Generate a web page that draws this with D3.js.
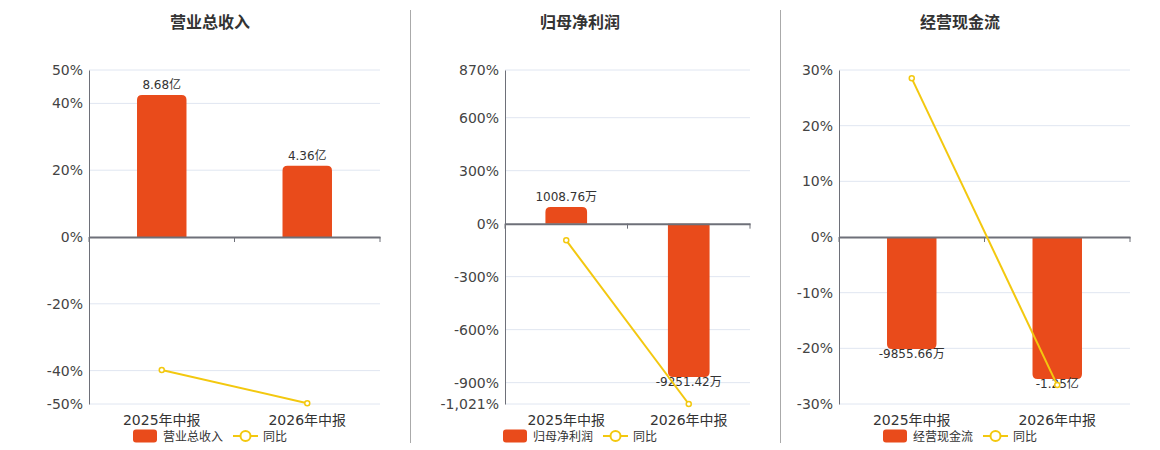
<!DOCTYPE html>
<html>
<head>
<meta charset="utf-8">
<script src="https://cdn.jsdelivr.net/npm/d3@7"></script>
<style>
	body { margin: 0; background: #fff; }
	svg { display: block; font-family: "DejaVu Sans", "Noto Sans CJK SC", sans-serif; }
</style>
</head>
<body>
<svg id="chart" width="1160" height="450"></svg>
<script>
// ---- data ----
const categories = ["2025年中报", "2026年中报"];
const titles = ["营业总收入", "归母净利润", "经营现金流"];
const seriesNames = ["营业总收入", "归母净利润", "经营现金流"];

// bar amounts in 万元
const revenueAmount = [86800, 43600];
const profitAmount = [1008.76, -9251.42];
const cashAmount = [-9855.66, -12500];

const revenueLabels = ["8.68亿", "4.36亿"];
const profitLabels = ["1008.76万", "-9251.42万"];
const cashLabels = ["-9855.66万", "-1.25亿"];

// 同比 (%)
const revenueYoy = [-39.8, -49.77];
const profitYoy = [-94.6, -1021];
const cashYoy = [28.5, -26.6];

const revenueTicks = [-50, -40, -20, 0, 20, 40, 50];
const profitTicks = [-1021, -900, -600, -300, 0, 300, 600, 870];
const cashTicks = [-30, -20, -10, 0, 10, 20, 30];

const barColor = "#e94b1b";
const lineColor = "#f3c80f";

const panels = [
	{ title: titles[0], name: seriesNames[0], amount: revenueAmount, labels: revenueLabels, yoy: revenueYoy, ticks: revenueTicks, cx: 210, left: 89 },
	{ title: titles[1], name: seriesNames[1], amount: profitAmount, labels: profitLabels, yoy: profitYoy, ticks: profitTicks, cx: 580, left: 505 },
	{ title: titles[2], name: seriesNames[2], amount: cashAmount, labels: cashLabels, yoy: cashYoy, ticks: cashTicks, cx: 960, left: 839 },
];

const svg = d3.select("#chart");
const plotTop = 70, plotBottom = 404;
// plain hyphen for negatives, like the original
const fmt = d3.formatLocale({ decimal: ".", thousands: ",", grouping: [3], currency: ["", ""], minus: "-" }).format(",");

// separators between panels
[410.5, 780.5].forEach((x) => {
	svg.append("line")
		.attr("x1", x).attr("x2", x)
		.attr("y1", 10).attr("y2", 443)
		.attr("stroke", "#aaa");
});

// bar path with rounded far end
function barPath(x, w, y0, y1, r) {
	const h = Math.abs(y1 - y0);
	r = Math.min(r, h, w / 2);
	if (y1 < y0) {
		return `M${x},${y0}V${y1 + r}Q${x},${y1} ${x + r},${y1}H${x + w - r}Q${x + w},${y1} ${x + w},${y1 + r}V${y0}Z`;
	}
	return `M${x},${y0}V${y1 - r}Q${x},${y1} ${x + r},${y1}H${x + w - r}Q${x + w},${y1} ${x + w},${y1 - r}V${y0}Z`;
}

panels.forEach((p) => {
	const g = svg.append("g");
	const right = p.cx + 170;
	const lo = d3.min(p.ticks), hi = d3.max(p.ticks);

	const x = d3.scaleBand().domain(categories).range([p.left, right]);
	const y = d3.scaleLinear().domain([lo, hi]).range([plotBottom, plotTop]);

	// bars share the zero line; the biggest bar reaches 85% of its side
	const maxAbs = d3.max(p.amount, (d) => Math.abs(d));
	const side = d3.max(p.amount) === maxAbs ? hi : -lo;
	const k = maxAbs / (0.85 * side);
	const yBar = d3.scaleLinear().domain([lo * k, hi * k]).range([plotBottom, plotTop]);

	// title
	g.append("text")
		.attr("x", p.cx).attr("y", 28)
		.attr("text-anchor", "middle")
		.attr("font-size", 16).attr("font-weight", "bold")
		.attr("fill", "#333")
		.text(p.title);

	// grid
	g.selectAll(".grid").data(p.ticks.filter((t) => t !== 0)).join("line")
		.attr("x1", p.left).attr("x2", right)
		.attr("y1", (d) => y(d)).attr("y2", (d) => y(d))
		.attr("stroke", "#e0e6f1");

	// y axis
	const yAxis = g.append("g")
		.attr("transform", `translate(${p.left},0)`)
		.call(d3.axisLeft(y).tickValues(p.ticks).tickSize(0).tickPadding(6).tickFormat((d) => fmt(d) + "%"));
	yAxis.select(".domain").attr("stroke", "#6e7079");
	yAxis.selectAll("text").attr("font-size", 14).attr("fill", "#444");
	yAxis.attr("font-family", null);

	// bars
	const bw = x.bandwidth() * 0.34;
	g.selectAll(".bar").data(p.amount).join("path")
		.attr("fill", barColor)
		.attr("d", (d, i) => barPath(x(categories[i]) + (x.bandwidth() - bw) / 2, bw, yBar(0), yBar(d), 5));

	// x axis on zero line
	const xAxis = g.append("g")
		.attr("transform", `translate(0,${y(0)})`)
		.call(d3.axisBottom(x).tickSize(0).tickFormat(""));
	xAxis.select(".domain").attr("stroke", "#6e7079").attr("stroke-width", 2);
	const edges = [p.left, p.left + x.bandwidth(), right];
	g.selectAll(".xtick").data(edges).join("line")
		.attr("x1", (d) => d).attr("x2", (d) => d)
		.attr("y1", y(0)).attr("y2", y(0) + 5)
		.attr("stroke", "#6e7079");

	// category labels
	g.selectAll(".cat").data(categories).join("text")
		.attr("x", (d) => x(d) + x.bandwidth() / 2)
		.attr("y", plotBottom + 21)
		.attr("text-anchor", "middle")
		.attr("font-size", 14).attr("fill", "#333")
		.text((d) => d);

	// value labels
	g.selectAll(".val").data(p.amount).join("text")
		.attr("x", (d, i) => x(categories[i]) + x.bandwidth() / 2)
		.attr("y", (d) => (d >= 0 ? yBar(d) - 6 : yBar(d) + 9))
		.attr("text-anchor", "middle")
		.attr("font-size", 12).attr("fill", "#333")
		.text((d, i) => p.labels[i]);

	// 同比 line
	const line = d3.line()
		.x((d, i) => x(categories[i]) + x.bandwidth() / 2)
		.y((d) => y(d));
	g.append("path")
		.datum(p.yoy)
		.attr("d", line)
		.attr("fill", "none")
		.attr("stroke", lineColor).attr("stroke-width", 2);
	g.selectAll(".pt").data(p.yoy).join("circle")
		.attr("cx", (d, i) => x(categories[i]) + x.bandwidth() / 2)
		.attr("cy", (d) => y(d))
		.attr("r", 2.5)
		.attr("fill", "#fff")
		.attr("stroke", lineColor).attr("stroke-width", 1.5);

	// legend
	const lg = g.append("g").attr("transform", `translate(${p.cx},436)`);
	lg.append("rect")
		.attr("x", -77).attr("y", -6.5).attr("width", 24).attr("height", 13).attr("rx", 3)
		.attr("fill", barColor);
	lg.append("text")
		.attr("x", -47).attr("y", 4.5)
		.attr("font-size", 12).attr("fill", "#333")
		.text(p.name);
	lg.append("line")
		.attr("x1", 23).attr("x2", 48).attr("y1", 0).attr("y2", 0)
		.attr("stroke", lineColor).attr("stroke-width", 2);
	lg.append("circle")
		.attr("cx", 35.5).attr("cy", 0).attr("r", 5)
		.attr("fill", "#fff").attr("stroke", lineColor).attr("stroke-width", 2);
	lg.append("text")
		.attr("x", 53).attr("y", 4.5)
		.attr("font-size", 12).attr("fill", "#333")
		.text("同比");
});
</script>
</body>
</html>
